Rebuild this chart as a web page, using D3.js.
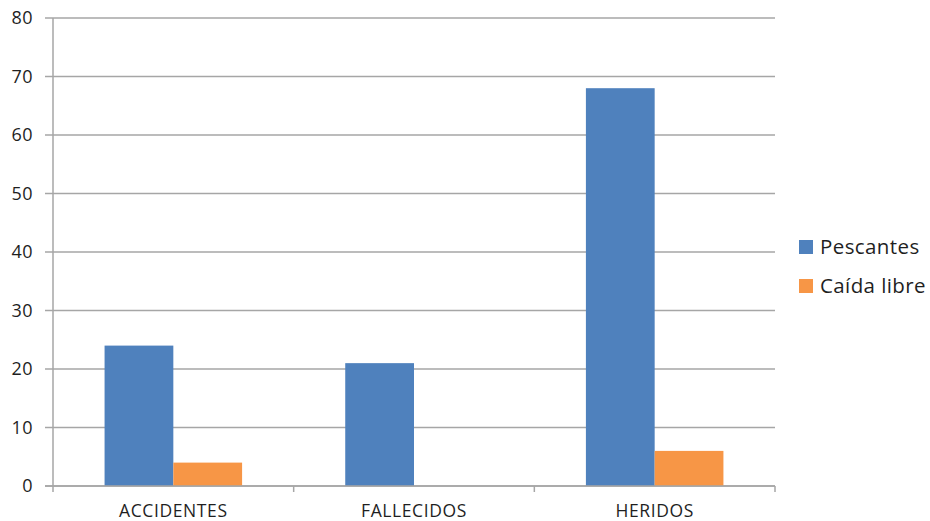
<!DOCTYPE html>
<html><head><meta charset="utf-8">
<script src="https://cdn.jsdelivr.net/npm/d3@7"></script>
<style>body{margin:0;background:#fff}svg{display:block}text{font-family:"Open Sans",sans-serif;fill:#1f1f1f}</style>
</head><body><svg id="c" width="930" height="521"></svg>
<script>
const categories = ["ACCIDENTES", "FALLECIDOS", "HERIDOS"];
const seriesNames = ["Pescantes", "Caída libre"];
const pescantes = [24, 21, 68];
const caidaLibre = [4, 0, 6];
const yTicks = [0, 10, 20, 30, 40, 50, 60, 70, 80];
const colors = ["#4F81BD", "#F79646"];

const svg = d3.select("#c");
const L = 53, R = 775, T = 18, B = 486;
const x = d3.scaleBand().domain(categories).range([L, R]).paddingInner(0).paddingOuter(0);
const inner = d3.scaleBand().domain(seriesNames).range([0, x.bandwidth()]).paddingInner(0).paddingOuter(0.75);
const y = d3.scaleLinear().domain([0, 80]).range([B, T]);
const series = [pescantes, caidaLibre];

// gridlines
svg.append("g").selectAll("line").data(yTicks).join("line")
  .attr("x1", L - 8).attr("x2", R).attr("y1", d => y(d)).attr("y2", d => y(d))
  .attr("stroke", "#A6A6A6").attr("stroke-width", 1.5);
// y axis line
svg.append("line").attr("x1", L).attr("x2", L).attr("y1", T).attr("y2", B + 6)
  .attr("stroke", "#A6A6A6").attr("stroke-width", 1.5);
// category ticks
const bounds = categories.map(c => x(c)).concat([R]);
svg.append("g").selectAll("line").data(bounds.slice(1)).join("line")
  .attr("x1", d => d).attr("x2", d => d).attr("y1", B).attr("y2", B + 6)
  .attr("stroke", "#A6A6A6").attr("stroke-width", 1.5);

// bars
series.forEach((vals, si) => {
  svg.append("g").selectAll("rect").data(vals).join("rect")
    .attr("x", (d, i) => x(categories[i]) + inner(seriesNames[si]))
    .attr("width", inner.bandwidth())
    .attr("y", d => y(d))
    .attr("height", d => B - y(d))
    .attr("fill", colors[si]);
});
// redraw baseline over bars
svg.append("line").attr("x1", L - 8).attr("x2", R).attr("y1", B).attr("y2", B)
  .attr("stroke", "#A6A6A6").attr("stroke-width", 1.5);

// y labels
svg.append("g").selectAll("text").data(yTicks).join("text")
  .attr("x", 33).attr("y", d => y(d)).attr("dy", "0.36em")
  .attr("text-anchor", "end").attr("font-size", 18).attr("letter-spacing", 0.5).text(d => d);
// x labels
svg.append("g").selectAll("text").data(categories).join("text")
  .attr("x", d => x(d) + x.bandwidth() / 2).attr("y", 517)
  .attr("text-anchor", "middle").attr("font-size", 17.5).attr("letter-spacing", 0.6).text(d => d);

// legend
const lg = svg.append("g");
seriesNames.forEach((n, i) => {
  lg.append("rect").attr("x", 799).attr("y", 240 + i * 39).attr("width", 14).attr("height", 14).attr("fill", colors[i]);
  lg.append("text").attr("x", 820).attr("y", 247 + i * 39).attr("dy", "0.36em").attr("font-size", 20.5).attr("letter-spacing", 0.4).text(n);
});
</script></body></html>
